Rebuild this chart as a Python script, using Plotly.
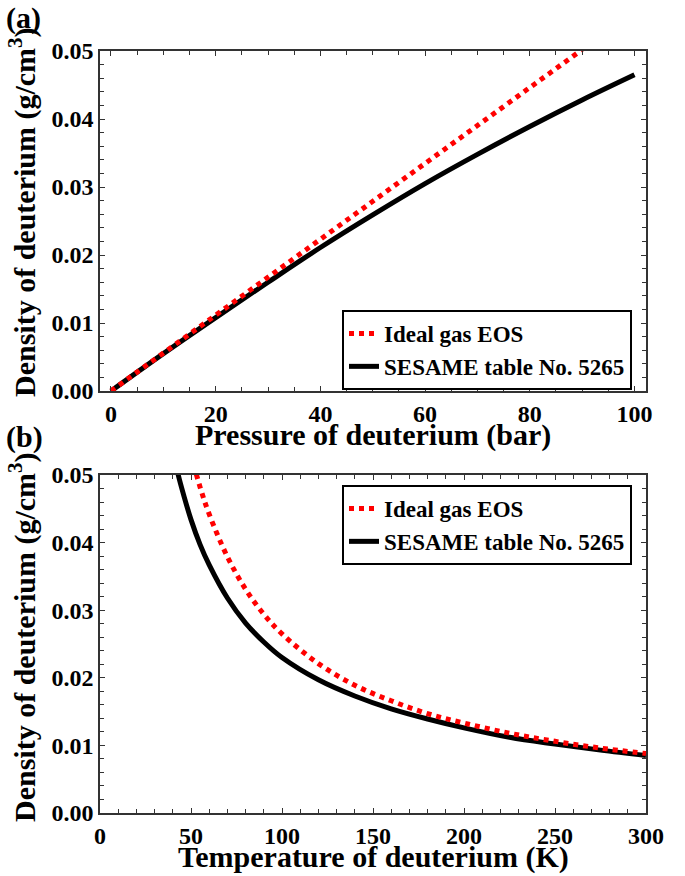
import plotly.graph_objects as go

# ---- data ----
pressure_ideal = [0, 10, 20, 30, 40, 50, 60, 70, 80, 90]
rho_ideal_p = [0.0, 0.0056, 0.0111, 0.0167, 0.0223, 0.0279, 0.0334, 0.0390, 0.0446, 0.0502]
pressure_sesame = [0, 10, 20, 30, 40, 50, 60, 70, 80, 90, 100]
rho_sesame_p = [0.0, 0.0055, 0.0108, 0.0160, 0.0211, 0.0259, 0.0305, 0.0348, 0.0389, 0.0428, 0.0465]

temp_ideal = [50, 55, 60, 70, 80, 90, 100, 120, 140, 160, 180, 200, 225, 250, 275, 300]
rho_ideal_t = [0.0530, 0.0482, 0.0442, 0.0379, 0.0331, 0.0294, 0.0265, 0.0221, 0.0189,
               0.0166, 0.0147, 0.0133, 0.0118, 0.0106, 0.0096, 0.0088]
temp_sesame = [40, 43, 46, 50, 55, 60, 70, 80, 90, 100, 120, 140, 160, 180, 200, 225, 250, 275, 300]
rho_sesame_t = [0.0538, 0.0500, 0.0470, 0.0434, 0.0397, 0.0367, 0.0318, 0.0281, 0.0253, 0.0230,
                0.0197, 0.0173, 0.0154, 0.0139, 0.0126, 0.0112, 0.0102, 0.0093, 0.0085]

x_ticks_p = [0, 20, 40, 60, 80, 100]
x_ticks_t = [0, 50, 100, 150, 200, 250, 300]
y_ticks = [0.00, 0.01, 0.02, 0.03, 0.04, 0.05]
y_tick_text = ["0.00", "0.01", "0.02", "0.03", "0.04", "0.05"]

name_ideal = "Ideal gas EOS"
name_sesame = "SESAME table No. 5265"
x_title_p = "Pressure of deuterium (bar)"
x_title_t = "Temperature of deuterium (K)"
y_title = "Density of deuterium (g/cm<sup>3</sup>)"

# ---- layout geometry (pixels) ----
W, H = 685, 876
ML, MR, MT, MB = 100, 39, 51, 63
PW = W - ML - MR
PH = H - MT - MB


def ypap(p):  # pixel y -> paper y
    return (H - MB - p) / PH


def xpap(p):  # pixel x -> paper x
    return (p - ML) / PW


def bold(s):
    return "<b>" + s + "</b>"


SERIF = "Liberation Serif"
AX = "#333333"
RED = "#ff0000"

fig = go.Figure()

# panel (a)
fig.add_trace(go.Scatter(x=pressure_sesame, y=rho_sesame_p, mode="lines", name=bold(name_sesame),
                         line=dict(color="black", width=5, shape="spline"),
                         xaxis="x", yaxis="y", legend="legend", legendrank=2))
fig.add_trace(go.Scatter(x=pressure_ideal, y=rho_ideal_p, mode="lines", name=bold(name_ideal),
                         line=dict(color=RED, width=5, dash="dot"),
                         xaxis="x", yaxis="y", legend="legend", legendrank=1))
# panel (b)
fig.add_trace(go.Scatter(x=temp_sesame, y=rho_sesame_t, mode="lines", name=bold(name_sesame),
                         line=dict(color="black", width=5, shape="spline"),
                         xaxis="x2", yaxis="y2", legend="legend2", legendrank=2))
fig.add_trace(go.Scatter(x=temp_ideal, y=rho_ideal_t, mode="lines", name=bold(name_ideal),
                         line=dict(color=RED, width=5, dash="dot", shape="spline"),
                         xaxis="x2", yaxis="y2", legend="legend2", legendrank=1))


def axis_style():
    return dict(showline=True, linecolor=AX, linewidth=1.5, mirror="ticks",
                ticks="inside", ticklen=5, tickwidth=1.2, tickcolor=AX,
                showgrid=False, zeroline=False,
                tickfont=dict(family=SERIF, size=24, color="black"))


def minor_style(step):
    return dict(dtick=step, tick0=0, ticks="inside", ticklen=4, tickwidth=1.2, tickcolor=AX)


fig.update_layout(
    width=W, height=H,
    margin=dict(l=ML, r=MR, t=MT, b=MB),
    paper_bgcolor="white", plot_bgcolor="white",
    xaxis=dict(domain=[0, 1], anchor="y", range=[-2.1, 102.2],
               tickvals=x_ticks_p, ticktext=[bold(str(v)) for v in x_ticks_p],
               minor=minor_style(5), **axis_style()),
    yaxis=dict(domain=[ypap(391), 1], anchor="x", range=[0, 0.05],
               tickvals=y_ticks, ticktext=[bold(t) for t in y_tick_text],
               minor=minor_style(0.002), **axis_style()),
    xaxis2=dict(domain=[0, 1], anchor="y2", range=[0, 300],
                tickvals=x_ticks_t, ticktext=[bold(str(v)) for v in x_ticks_t],
                minor=minor_style(10), **axis_style()),
    yaxis2=dict(domain=[0, ypap(475)], anchor="x2", range=[0, 0.05],
                tickvals=y_ticks, ticktext=[bold(t) for t in y_tick_text],
                minor=minor_style(0.002), **axis_style()),
    legend=dict(x=xpap(632), xanchor="right", y=ypap(310), yanchor="top",
                bgcolor="white", bordercolor="black", borderwidth=2,
                font=dict(family=SERIF, size=23, color="black"),
                tracegroupgap=0, itemwidth=30),
    legend2=dict(x=xpap(632), xanchor="right", y=ypap(485), yanchor="top",
                 bgcolor="white", bordercolor="black", borderwidth=2,
                 font=dict(family=SERIF, size=23, color="black"),
                 tracegroupgap=0, itemwidth=30),
    showlegend=True,
)

annotations = []
for txt, xp, yp, ang, anchor in [
    (x_title_p, 373, 435, 0, "center"),
    (x_title_t, 373, 857, 0, "center"),
    (y_title, 22, 212, -90, "center"),
    (y_title, 22, 637, -90, "center"),
    ("(a)", 4, 18, 0, "left"),
    ("(b)", 4, 437, 0, "left"),
]:
    annotations.append(dict(text=bold(txt), x=xpap(xp), y=ypap(yp), xref="paper", yref="paper",
                            textangle=ang, xanchor=anchor, yanchor="middle", showarrow=False,
                            font=dict(family=SERIF, size=30, color="black")))
fig.update_layout(annotations=annotations)

fig.write_html("out.html")
